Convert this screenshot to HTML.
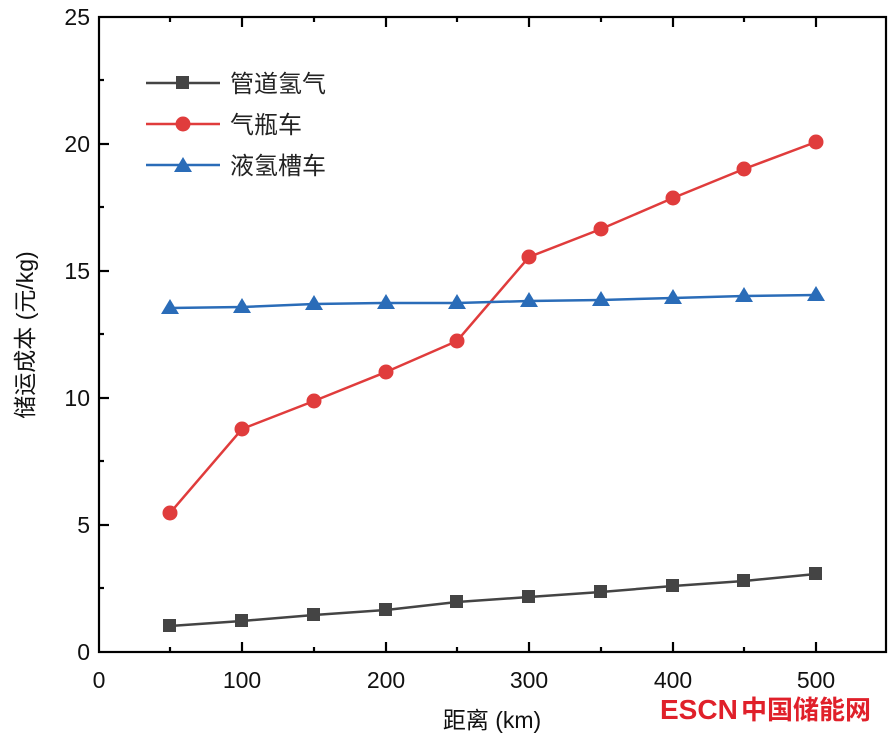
<!DOCTYPE html>
<html><head><meta charset="utf-8"><style>
html,body{margin:0;padding:0;background:#fff;}
svg{display:block;font-family:"Liberation Sans","Noto Sans CJK SC",sans-serif;}
</style></head><body>
<svg width="890" height="739" viewBox="0 0 890 739" xmlns="http://www.w3.org/2000/svg">
<rect width="890" height="739" fill="#fff"/>
<rect x="99" y="17" width="787" height="635" fill="none" stroke="#000" stroke-width="2.2"/>
<g stroke="#000" stroke-width="2.2">
<line x1="242" y1="652" x2="242" y2="642"/><line x1="386" y1="652" x2="386" y2="642"/><line x1="529" y1="652" x2="529" y2="642"/><line x1="673" y1="652" x2="673" y2="642"/><line x1="816" y1="652" x2="816" y2="642"/>
<line x1="170" y1="652" x2="170" y2="647"/><line x1="314" y1="652" x2="314" y2="647"/><line x1="457" y1="652" x2="457" y2="647"/><line x1="601" y1="652" x2="601" y2="647"/><line x1="744" y1="652" x2="744" y2="647"/>
<line x1="242" y1="17" x2="242" y2="27"/><line x1="386" y1="17" x2="386" y2="27"/><line x1="529" y1="17" x2="529" y2="27"/><line x1="673" y1="17" x2="673" y2="27"/><line x1="816" y1="17" x2="816" y2="27"/>
<line x1="170" y1="17" x2="170" y2="22"/><line x1="314" y1="17" x2="314" y2="22"/><line x1="457" y1="17" x2="457" y2="22"/><line x1="601" y1="17" x2="601" y2="22"/><line x1="744" y1="17" x2="744" y2="22"/>
<line x1="99" y1="525" x2="109" y2="525"/><line x1="99" y1="398" x2="109" y2="398"/><line x1="99" y1="271" x2="109" y2="271"/><line x1="99" y1="144" x2="109" y2="144"/>
<line x1="99" y1="588" x2="104" y2="588"/><line x1="99" y1="461" x2="104" y2="461"/><line x1="99" y1="334" x2="104" y2="334"/><line x1="99" y1="207" x2="104" y2="207"/><line x1="99" y1="80" x2="104" y2="80"/>
</g>
<g font-size="23" fill="#111" text-anchor="end">
<text x="90" y="660">0</text><text x="90" y="533">5</text><text x="90" y="406">10</text><text x="90" y="279">15</text><text x="90" y="152">20</text><text x="90" y="25">25</text>
</g>
<g font-size="23" fill="#111" text-anchor="middle">
<text x="99" y="688">0</text><text x="242" y="688">100</text><text x="386" y="688">200</text><text x="529" y="688">300</text><text x="673" y="688">400</text><text x="816" y="688">500</text>
</g>
<text x="492" y="728" font-size="23" text-anchor="middle" fill="#111">距离 (km)</text>
<text transform="translate(33,335) rotate(-90)" font-size="23" text-anchor="middle" fill="#111">储运成本 (元/kg)</text>
<polyline fill="none" stroke="#444" stroke-width="2.5" points="170,626 242,621 314,615 386,610 457,602 529,597 601,592 673,586 744,581 816,574"/>
<g fill="#444">
<rect x="163" y="619" width="13" height="13"/><rect x="235" y="614" width="13" height="13"/><rect x="307" y="608" width="13" height="13"/><rect x="379" y="603" width="13" height="13"/><rect x="450" y="595" width="13" height="13"/><rect x="522" y="590" width="13" height="13"/><rect x="594" y="585" width="13" height="13"/><rect x="666" y="579" width="13" height="13"/><rect x="737" y="574" width="13" height="13"/><rect x="809" y="567" width="13" height="13"/>
</g>
<polyline fill="none" stroke="#e03c3c" stroke-width="2.5" points="170,513 242,429 314,401 386,372 457,341 529,257 601,229 673,198 744,169 816,142"/>
<g fill="#e03c3c">
<circle cx="170" cy="513" r="7.5"/><circle cx="242" cy="429" r="7.5"/><circle cx="314" cy="401" r="7.5"/><circle cx="386" cy="372" r="7.5"/><circle cx="457" cy="341" r="7.5"/><circle cx="529" cy="257" r="7.5"/><circle cx="601" cy="229" r="7.5"/><circle cx="673" cy="198" r="7.5"/><circle cx="744" cy="169" r="7.5"/><circle cx="816" cy="142" r="7.5"/>
</g>
<polyline fill="none" stroke="#2a6cb8" stroke-width="2.5" points="170,308 242,307 314,304 386,303 457,303 529,301 601,300 673,298 744,296 816,295"/>
<g fill="#2a6cb8">
<polygon points="170,299 179,314 161,314"/><polygon points="242,298 251,313 233,313"/><polygon points="314,295 323,310 305,310"/><polygon points="386,294 395,309 377,309"/><polygon points="457,294 466,309 448,309"/><polygon points="529,292 538,307 520,307"/><polygon points="601,291 610,306 592,306"/><polygon points="673,289 682,304 664,304"/><polygon points="744,287 753,302 735,302"/><polygon points="816,286 825,301 807,301"/>
</g>
<line x1="146" y1="83" x2="220" y2="83" stroke="#444" stroke-width="2.5"/><rect x="176" y="76" width="13" height="13" fill="#444"/>
<text x="230" y="92" font-size="24" fill="#222">管道氢气</text>
<line x1="146" y1="124" x2="220" y2="124" stroke="#e03c3c" stroke-width="2.5"/><circle cx="183" cy="124" r="7.5" fill="#e03c3c"/>
<text x="230" y="133" font-size="24" fill="#222">气瓶车</text>
<line x1="146" y1="165" x2="220" y2="165" stroke="#2a6cb8" stroke-width="2.5"/><polygon points="183,157 192,172 174,172" fill="#2a6cb8"/>
<text x="230" y="174" font-size="24" fill="#222">液氢槽车</text>
<text x="660" y="719" font-size="28" font-weight="bold" fill="#e0202a" font-family="Liberation Sans, sans-serif">ESCN</text>
<text x="741" y="719" font-size="26" font-weight="bold" fill="#e0202a">中国储能网</text>
</svg>
</body></html>
